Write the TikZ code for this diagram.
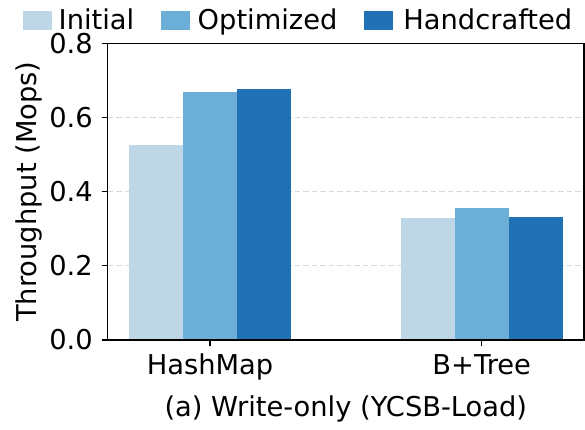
\documentclass[tikz,border=0pt]{standalone}
\usepackage{fontspec}
\setmainfont{DejaVu Sans}
\definecolor{cInit}{HTML}{BDD7E7}
\definecolor{cOpt}{HTML}{6BAED6}
\definecolor{cHand}{HTML}{2171B5}
\definecolor{gridgray}{HTML}{D8D8D8}
\begin{document}
\begin{tikzpicture}[x=1pt,y=-1pt,
  lbl/.style={font=\fontsize{27.3}{32}\selectfont, inner sep=0pt},
  gridline/.style={draw=gridgray, line width=1.2pt, dash pattern=on 5.5pt off 3pt},
  spine/.style={draw=black, line width=1.2pt},
  tickmark/.style={draw=black, line width=1.2pt},
]
\useasboundingbox (0,0) rectangle (585,429);

% data area: origin of the value axis at y=340, 1 unit of throughput = 371pt upward
\begin{scope}[shift={(0,340)}, y=371pt]
  % horizontal grid
  \foreach \v in {0.2,0.4,0.6} {
    \draw[gridline] (107.7,\v) -- (584,\v);
  }
  % HashMap group
  \fill[cInit] (129,0) rectangle (183,0.526);
  \fill[cOpt]  (183,0) rectangle (237,0.669);
  \fill[cHand] (237,0) rectangle (291,0.676);
  % B+Tree group
  \fill[cInit] (400.7,0) rectangle (454.7,0.329);
  \fill[cOpt]  (454.7,0) rectangle (508.7,0.356);
  \fill[cHand] (508.7,0) rectangle (562.7,0.332);
  % frame
  \draw[spine] (107.7,0) rectangle (584,0.8);
  % y ticks and labels
  \foreach \v in {0.0,0.2,0.4,0.6,0.8} {
    \draw[tickmark] (101.7,\v) -- (107.7,\v);
    \node[lbl, anchor=east] at (93,\v) {\v};
  }
\end{scope}

% x ticks
\coordinate (tHash) at (210,340);
\coordinate (tTree) at (481.7,340);
\draw[tickmark] (tHash) -- ++(0,6);
\draw[tickmark] (tTree) -- ++(0,6);
\node[lbl, anchor=base] (lHash) at (210,374.3) {HashMap};
\node[lbl, anchor=base] (lTree) at (481.7,374.3) {B+Tree};

% axis titles
\node[lbl, anchor=base] (xtitle) at (345.8,416) {(a) Write-only (YCSB-Load)};
\node[lbl, rotate=90, anchor=center] (ytitle) at (29,191.7) {Throughput (Mops)};

% legend
\fill[cInit] (23,11) rectangle (51.5,29.5);
\node[lbl, anchor=base west] (legI) at (58.5,29) {Initial};
\fill[cOpt] (161,11) rectangle (189.5,29.5);
\node[lbl, anchor=base west] (legO) at (197.5,29) {Optimized};
\fill[cHand] (364,11) rectangle (392.5,29.5);
\node[lbl, anchor=base west] (legH) at (403.2,29) {Handcrafted};
\end{tikzpicture}
\end{document}
